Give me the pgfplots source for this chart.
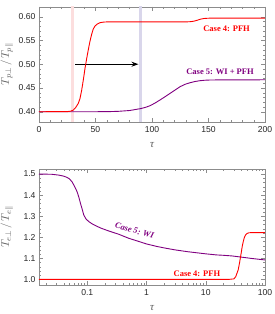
\documentclass[border=0pt]{standalone}
\usepackage{fontspec}
\setmainfont{Liberation Serif}
\newfontfamily\ticksf{Liberation Sans}
\usepackage{pgfplots}
\pgfplotsset{compat=1.18}
\usetikzlibrary{arrows.meta}
\definecolor{mred}{rgb}{1,0,0}
\definecolor{mpurple}{rgb}{0.5,0,0.5}
\definecolor{bandred}{rgb}{0.99,0.87,0.87}
\definecolor{bandblue}{rgb}{0.85,0.84,0.92}
\begin{document}
\begin{tikzpicture}
\useasboundingbox (-39pt,-192.3pt) rectangle (236pt,121.7pt);
\pgfplotsset{
  every axis/.append style={
    scale only axis,
    width=226pt,
    axis line style={black!45},
    tick style={black!45},
    tick align=inside,
    major tick length=4pt,
    minor tick length=2.2pt,
    tick label style={font=\ticksf\fontsize{8.6}{10}\selectfont, text=black!85},
    /pgf/number format/assume math mode=true,
    label style={font=\fontsize{11}{12}\selectfont, text=black!65},
    xlabel style={at={(axis description cs:0.5,-0.2)}, anchor=center},
    ylabel style={at={(axis description cs:-0.1416,0.5)}, anchor=center},
    xticklabel style={yshift=-1pt},
    clip=true,
  }
}
% ---------------- top panel ----------------
\begin{axis}[
  at={(0pt,0pt)}, anchor=south west,
  height=115pt,
  xmin=0, xmax=200, ymin=0.379, ymax=0.621,
  xtick={0,50,100,150,200},
  ytick={0.40,0.45,0.50,0.55,0.60},
  minor x tick num=4, minor y tick num=4,
  yticklabel style={/pgf/number format/.cd, fixed, fixed zerofill, precision=2},
  xlabel={\itshape τ},
  ylabel={$T_{p\perp}\,/\,T_{p\|}$},
]
\addplot[bandred, line width=3pt] coordinates {(30,0.37) (30,0.63)};
\addplot[bandblue, line width=3pt] coordinates {(90,0.37) (90,0.63)};
\addplot[black, line width=1pt, -{Stealth[length=7pt,width=5pt]}] coordinates {(32,0.5) (88,0.5)};
\addplot[mpurple, line width=0.9pt] coordinates {
(0,0.4) (50,0.4) (62.8,0.4003) (70,0.4008) (80,0.4025) (89.4,0.4063) (94,0.409)
(98.2,0.4126) (102.5,0.418) (107,0.4246) (111.5,0.4315) (116,0.4387) (120.5,0.4458)
(124.8,0.4526) (129,0.4575) (133.6,0.461) (138,0.4635) (142.5,0.4653) (147,0.4663)
(151,0.4667) (160,0.4670) (200,0.4672)};
\addplot[mred, line width=0.9pt] coordinates {
(0,0.4) (25,0.4002) (28,0.4012) (30.4,0.4035) (32.5,0.409) (34.8,0.4177) (36.3,0.428)
(37.8,0.4457) (39.3,0.468) (40.7,0.491) (42.2,0.512) (43.6,0.53) (45,0.547)
(46.6,0.563) (48,0.574) (49.6,0.5804) (51.5,0.5845) (54,0.5874) (57,0.5886)
(60,0.589) (130,0.589) (134,0.5895) (137,0.5905) (140,0.5925) (143,0.5948)
(146,0.5962) (150,0.5968) (160,0.597) (200,0.597)};
\node[text=mred, font=\bfseries\fontsize{8.5}{10}\selectfont] at (axis cs:166,0.5755) {Case 4: PFH};
\node[text=mpurple, font=\bfseries\fontsize{8.5}{10}\selectfont] at (axis cs:160.2,0.4842) {Case 5: WI + PFH};
\end{axis}
% ---------------- bottom panel ----------------
\begin{axis}[
  at={(0pt,-163.3pt)}, anchor=south west,
  height=116pt,
  xmode=log,
  xmin=0.0153, xmax=100, ymin=0.973, ymax=1.524,
  xtick={0.1,1,10,100},
  xticklabels={0.1,1,10,100},
  minor xtick={0.02,0.03,0.04,0.05,0.06,0.07,0.08,0.09,0.2,0.3,0.4,0.5,0.6,0.7,0.8,0.9,2,3,4,5,6,7,8,9,20,30,40,50,60,70,80,90},
  ytick={1.0,1.1,1.2,1.3,1.4,1.5},
  minor y tick num=4,
  yticklabel style={/pgf/number format/.cd, fixed, fixed zerofill, precision=1},
  xlabel={\itshape τ},
  ylabel={$T_{e\perp}\,/\,T_{e\|}$},
]
\addplot[mpurple, line width=0.9pt] coordinates {
(0.0153,1.500) (0.025,1.499) (0.033,1.495) (0.04,1.490) (0.0456,1.484) (0.05,1.477)
(0.0553,1.463) (0.06,1.445) (0.0673,1.416) (0.072,1.39) (0.0767,1.361) (0.082,1.333)
(0.0873,1.305) (0.095,1.287) (0.106,1.274) (0.12,1.264) (0.138,1.255) (0.17,1.243)
(0.231,1.2295) (0.34,1.214) (0.5,1.195) (0.7,1.182) (1,1.168) (1.5,1.156) (2,1.149)
(3,1.140) (5,1.131) (7.6,1.125) (10,1.121) (15,1.116) (20,1.114) (27.9,1.111)
(41,1.105) (60,1.099) (100,1.092)};
\addplot[mred, line width=0.9pt] coordinates {
(0.0153,1.0) (25,1.0) (29.8,1.002) (32,1.012) (35.3,1.045) (37,1.075) (38.7,1.107)
(40,1.132) (41.2,1.155) (43,1.18) (45,1.2) (47,1.211) (50,1.218) (53.5,1.221)
(60,1.222) (100,1.222)};
\node[text=mpurple, font=\bfseries\itshape\fontsize{8.5}{10}\selectfont, rotate=-16] at (axis cs:0.627,1.232) {Case 5: WI};
\node[text=mred, font=\bfseries\fontsize{8.5}{10}\selectfont] at (axis cs:7.08,1.025) {Case 4: PFH};
\end{axis}
\end{tikzpicture}
\end{document}
